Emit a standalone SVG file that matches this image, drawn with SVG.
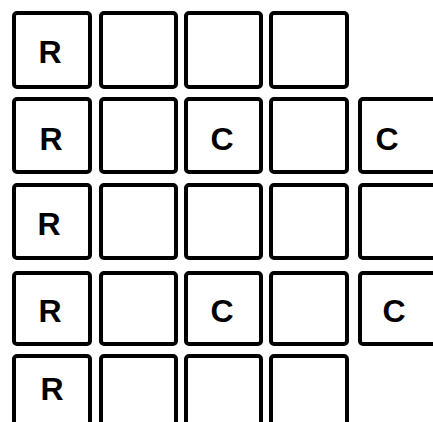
<svg xmlns="http://www.w3.org/2000/svg" width="433" height="422" viewBox="0 0 433 422">
<style>
.b{fill:#fff;stroke:#000;stroke-width:4}
.t{font-family:"Liberation Sans",Arial,sans-serif;font-weight:bold;font-size:32px;text-anchor:middle;fill:#000}
</style>
<rect width="433" height="422" fill="#fff"/>
<g id="r1c1"><rect class="b" x="14" y="13" width="76" height="74" rx="3"/><text class="t" x="50" y="63">R</text></g>
<g id="r1c2"><rect class="b" x="101" y="13" width="75" height="74" rx="3"/></g>
<g id="r1c3"><rect class="b" x="186" y="13" width="75" height="74" rx="3"/></g>
<g id="r1c4"><rect class="b" x="271" y="13" width="76" height="74" rx="3"/></g>

<g id="r2c1"><rect class="b" x="14" y="99" width="76" height="73" rx="3"/><text class="t" x="51" y="150">R</text></g>
<g id="r2c2"><rect class="b" x="101" y="99" width="75" height="73" rx="3"/></g>
<g id="r2c3"><rect class="b" x="186" y="99" width="75" height="73" rx="3"/><text class="t" x="222" y="150">C</text></g>
<g id="r2c4"><rect class="b" x="271" y="99" width="76" height="73" rx="3"/></g>
<g id="r2c5"><rect class="b" x="360" y="99" width="100" height="73" rx="3"/><text class="t" x="387" y="150">C</text></g>

<g id="r3c1"><rect class="b" x="14" y="185" width="76" height="73" rx="3"/><text class="t" x="49" y="235">R</text></g>
<g id="r3c2"><rect class="b" x="101" y="185" width="75" height="73" rx="3"/></g>
<g id="r3c3"><rect class="b" x="186" y="185" width="75" height="73" rx="3"/></g>
<g id="r3c4"><rect class="b" x="271" y="185" width="76" height="73" rx="3"/></g>
<g id="r3c5"><rect class="b" x="360" y="185" width="100" height="73" rx="3"/></g>

<g id="r4c1"><rect class="b" x="14" y="273" width="76" height="71" rx="3"/><text class="t" x="50" y="322">R</text></g>
<g id="r4c2"><rect class="b" x="101" y="273" width="75" height="71" rx="3"/></g>
<g id="r4c3"><rect class="b" x="186" y="273" width="75" height="71" rx="3"/><text class="t" x="222" y="322">C</text></g>
<g id="r4c4"><rect class="b" x="271" y="273" width="76" height="71" rx="3"/></g>
<g id="r4c5"><rect class="b" x="360" y="273" width="100" height="71" rx="3"/><text class="t" x="394" y="322">C</text></g>

<g id="r5c1"><rect class="b" x="14" y="356" width="76" height="100" rx="3"/><text class="t" x="52" y="400">R</text></g>
<g id="r5c2"><rect class="b" x="101" y="356" width="75" height="100" rx="3"/></g>
<g id="r5c3"><rect class="b" x="186" y="356" width="75" height="100" rx="3"/></g>
<g id="r5c4"><rect class="b" x="271" y="356" width="76" height="100" rx="3"/></g>
<g id="connectors"></g>
</svg>
